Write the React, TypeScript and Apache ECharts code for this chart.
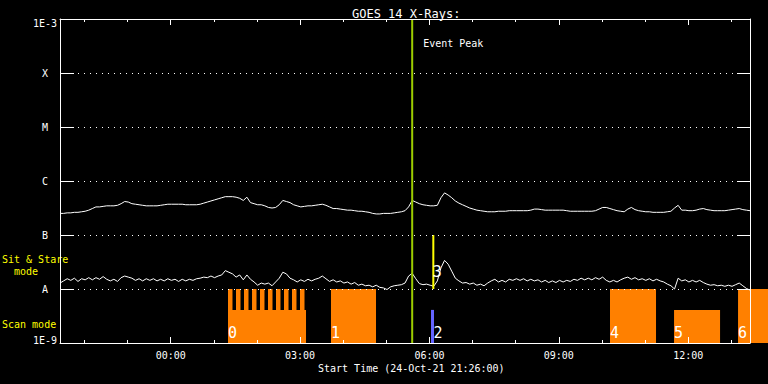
import React, { useEffect, useRef } from 'react';
import * as echarts from 'echarts';

// ---- time base (hours relative to 25-Oct 00:00) ----
const START_HOUR = -2.5667; // 24-Oct-21 21:26:00
const END_HOUR = 13.4333;
const STEP_HOUR = 5 / 60; // 5-minute samples
const Y_MIN = 1e-9;
const Y_MAX = 1e-3;

const majorTickHours = [0, 3, 6, 9, 12];
const minorTickHours = [-2, -1, 1, 2, 4, 5, 7, 8, 10, 11, 13];
const decadeExponents = [-9, -8, -7, -6, -5, -4, -3];
const decadeLabels = ['1E-9', 'A', 'B', 'C', 'M', 'X', '1E-3'];

// ---- GOES 14 flux, log10(W/m^2), 5-minute samples from 21:26 ----
const longLog10 = [
  -6.60, -6.60, -6.59, -6.59, -6.58, -6.58, -6.57, -6.56, -6.54, -6.51,
  -6.48, -6.48, -6.47, -6.46, -6.46, -6.46, -6.45, -6.42, -6.38, -6.39,
  -6.42, -6.43, -6.44, -6.45, -6.46, -6.46, -6.46, -6.46, -6.45, -6.44,
  -6.43, -6.43, -6.43, -6.43, -6.43, -6.44, -6.44, -6.44, -6.44, -6.43,
  -6.41, -6.39, -6.37, -6.35, -6.33, -6.31, -6.29, -6.29, -6.29, -6.30,
  -6.32, -6.36, -6.30, -6.40, -6.42, -6.44, -6.44, -6.46, -6.49, -6.50,
  -6.49, -6.44, -6.36, -6.38, -6.40, -6.44, -6.46, -6.48, -6.47, -6.46,
  -6.46, -6.45, -6.44, -6.43, -6.45, -6.48, -6.51, -6.51, -6.52, -6.53,
  -6.54, -6.54, -6.55, -6.56, -6.56, -6.57, -6.58, -6.60, -6.61, -6.61,
  -6.60, -6.60, -6.60, -6.59, -6.58, -6.57, -6.55, -6.48, -6.36, -6.39,
  -6.42, -6.44, -6.45, -6.46, -6.46, -6.45, -6.31, -6.22, -6.26, -6.31,
  -6.37, -6.41, -6.44, -6.47, -6.50, -6.52, -6.54, -6.55, -6.56, -6.57,
  -6.57, -6.57, -6.56, -6.56, -6.56, -6.55, -6.55, -6.55, -6.55, -6.55,
  -6.55, -6.54, -6.52, -6.52, -6.53, -6.54, -6.54, -6.54, -6.54, -6.54,
  -6.54, -6.55, -6.56, -6.56, -6.56, -6.56, -6.56, -6.56, -6.56, -6.55,
  -6.52, -6.49, -6.49, -6.51, -6.53, -6.55, -6.56, -6.57, -6.52, -6.49,
  -6.53, -6.55, -6.56, -6.57, -6.57, -6.58, -6.58, -6.58, -6.58, -6.57,
  -6.56, -6.50, -6.45, -6.54, -6.54, -6.55, -6.55, -6.54, -6.52, -6.51,
  -6.53, -6.54, -6.55, -6.55, -6.55, -6.55, -6.54, -6.53, -6.52, -6.51,
  -6.53, -6.54, -6.55,
];

const shortLog10 = [
  -7.89, -7.85, -7.81, -7.84, -7.80, -7.86, -7.81, -7.83, -7.79, -7.83,
  -7.79, -7.82, -7.77, -7.82, -7.85, -7.82, -7.86, -7.79, -7.76, -7.78,
  -7.80, -7.84, -7.81, -7.85, -7.81, -7.84, -7.81, -7.85, -7.82, -7.85,
  -7.81, -7.84, -7.82, -7.86, -7.82, -7.85, -7.82, -7.84, -7.81, -7.80,
  -7.78, -7.79, -7.76, -7.79, -7.76, -7.74, -7.66, -7.69, -7.72, -7.78,
  -7.74, -7.83, -7.74, -7.82, -7.87, -7.93, -7.89, -7.91, -7.89, -7.94,
  -7.87, -7.80, -7.69, -7.72, -7.80, -7.83, -7.87, -7.83, -7.86, -7.82,
  -7.85, -7.82, -7.80, -7.76, -7.81, -7.86, -7.83, -7.87, -7.85, -7.89,
  -7.87, -7.91, -7.88, -7.93, -7.91, -7.94, -7.93, -7.96, -7.93, -7.97,
  -7.98, -8.01, -7.96, -7.94, -7.93, -7.92, -7.89, -7.76, -7.71, -7.81,
  -7.90, -7.92, -7.91, -7.93, -7.95, -7.85, -7.61, -7.47, -7.54, -7.67,
  -7.80, -7.85, -7.89, -7.88, -7.91, -7.89, -7.93, -7.91, -7.94, -7.89,
  -7.85, -7.82, -7.87, -7.84, -7.87, -7.82, -7.84, -7.81, -7.84, -7.81,
  -7.85, -7.82, -7.85, -7.83, -7.87, -7.84, -7.88, -7.85, -7.88, -7.84,
  -7.87, -7.84, -7.86, -7.82, -7.84, -7.80, -7.83, -7.80, -7.83, -7.79,
  -7.82, -7.78, -7.84, -7.87, -7.84, -7.87, -7.83, -7.80, -7.78, -7.82,
  -7.79, -7.83, -7.81, -7.84, -7.81, -7.85, -7.82, -7.85, -7.87, -7.91,
  -7.94, -8.00, -7.80, -7.85, -7.83, -7.87, -7.84, -7.87, -7.84, -7.88,
  -7.91, -7.93, -7.92, -7.94, -7.93, -7.95, -7.93, -7.95, -7.92, -7.89,
  -7.94, -7.99, -8.02,
];

// ---- observation timeline (hours) ----
const scanLabels = ['0', '1', '4', '5', '6'];
const scanStart = [1.329, 3.717, 10.187, 11.672, 13.156];
const scanEnd = [3.138, 4.761, 11.254, 12.739, 14.0];
const scanTop = [4.1e-9, 1e-8, 1e-8, 4.1e-9, 1e-8];

const toothStart = [1.329, 1.515, 1.700, 1.886, 2.071, 2.257, 2.442, 2.628, 2.813, 2.999];
const toothEnd = [1.433, 1.619, 1.804, 1.990, 2.175, 2.361, 2.546, 2.732, 2.917, 3.103];
const toothTop = 1e-8;

const shortScanLabels = ['2'];
const shortScanTime = [6.071];
const shortScanTop = [4.1e-9];

const sitStareLabels = ['3'];
const sitStareTime = [6.09];
const sitStareBottom = [1e-8];
const sitStareTop = [1e-7];

const eventPeakTime = 5.6;

// ---- styles ----
const MONO = '"DejaVu Sans Mono", monospace';
const WHITE = '#ffffff';
const ORANGE = '#ff8000';
const PURPLE = '#6464ff';
const YELLOW = '#ffff00';
const GREEN = '#9ccc00';

const fmtHour = (v: number) => {
  const h = ((Math.round(v) % 24) + 24) % 24;
  return String(h).padStart(2, '0') + ':00';
};

export default function App() {
  const ref = useRef<HTMLDivElement>(null);

  useEffect(() => {
    if (!ref.current) return;
    const chart = echarts.init(ref.current, undefined, { renderer: 'svg' });

    const longData = longLog10.map((v, i) => [START_HOUR + i * STEP_HOUR, Math.pow(10, v)]);
    const shortData = shortLog10.map((v, i) => [START_HOUR + i * STEP_HOUR, Math.pow(10, v)]);

    const xBase = {
      type: 'value',
      min: START_HOUR,
      max: END_HOUR,
      splitLine: { show: false },
      z: 10,
    };

    const option: any = {
      animation: false,
      backgroundColor: '#000000',
      title: {
        text: 'GOES 14 X-Rays:',
        left: 347,
        top: 3,
        textStyle: { color: WHITE, fontFamily: MONO, fontSize: 12, fontWeight: 'normal' },
      },
      grid: { left: 60, right: 18, top: 19, bottom: 41, containLabel: false, outerBoundsMode: 'none' },
      xAxis: [
        {
          ...xBase,
          position: 'bottom',
          axisLine: { show: true, onZero: false, lineStyle: { color: WHITE, width: 1 } },
          axisTick: { show: true, inside: true, length: 6, customValues: majorTickHours, lineStyle: { color: WHITE } },
          axisLabel: {
            show: true,
            customValues: majorTickHours,
            formatter: fmtHour,
            color: WHITE,
            fontFamily: MONO,
            fontSize: 10,
            margin: 7,
          },
        },
        {
          ...xBase,
          position: 'bottom',
          axisLine: { show: false, onZero: false },
          axisTick: { show: true, inside: true, length: 3, customValues: minorTickHours, lineStyle: { color: WHITE } },
          axisLabel: { show: false },
        },
        {
          ...xBase,
          position: 'top',
          axisLine: { show: true, onZero: false, lineStyle: { color: WHITE, width: 1 } },
          axisTick: { show: true, inside: true, length: 6, customValues: majorTickHours, lineStyle: { color: WHITE } },
          axisLabel: { show: false },
        },
        {
          ...xBase,
          position: 'top',
          axisLine: { show: false, onZero: false },
          axisTick: { show: true, inside: true, length: 3, customValues: minorTickHours, lineStyle: { color: WHITE } },
          axisLabel: { show: false },
        },
      ],
      yAxis: [
        {
          type: 'log',
          logBase: 10,
          min: Y_MIN,
          max: Y_MAX,
          interval: 1,
          position: 'left',
          z: 10,
          axisLine: { show: true, onZero: false, lineStyle: { color: WHITE, width: 1 } },
          axisTick: { show: true, inside: true, length: 14, lineStyle: { color: WHITE } },
          splitLine: { show: true, lineStyle: { color: WHITE, width: 1, type: [1, 5] } },
          axisLabel: {
            show: true,
            margin: 3,
            color: WHITE,
            fontFamily: MONO,
            fontSize: 10,
            formatter: (v: number) => {
              const e = Math.round(Math.log10(v));
              const idx = decadeExponents.indexOf(e);
              const t = idx >= 0 ? decadeLabels[idx] : '';
              if (e === -3) return '{top|' + t + '}';
              if (e === -9) return '{bot|' + t + '}';
              return '{l|' + t + '}';
            },
            rich: {
              top: { color: WHITE, fontFamily: MONO, fontSize: 10, padding: [8, 0, 0, 0] },
              bot: { color: WHITE, fontFamily: MONO, fontSize: 10, padding: [0, 0, 6, 0] },
              l: { color: WHITE, fontFamily: MONO, fontSize: 10, padding: [0, 9, 0, 0] },
            },
          },
        },
        {
          type: 'log',
          logBase: 10,
          min: Y_MIN,
          max: Y_MAX,
          interval: 1,
          position: 'right',
          z: 10,
          axisLine: { show: true, onZero: false, lineStyle: { color: WHITE, width: 1 } },
          axisTick: { show: true, inside: true, length: 13, lineStyle: { color: WHITE } },
          splitLine: { show: false },
          axisLabel: { show: false },
        },
      ],
      graphic: [
        {
          type: 'text',
          left: 2,
          top: 253,
          style: { text: 'Sit & Stare\n  mode', fill: YELLOW, fontFamily: MONO, fontSize: 10, lineHeight: 12 },
        },
        {
          type: 'text',
          left: 2,
          top: 318,
          style: { text: 'Scan mode', fill: YELLOW, fontFamily: MONO, fontSize: 10, lineHeight: 12 },
        },
        {
          type: 'text',
          left: 318,
          top: 362,
          style: { text: 'Start Time (24-Oct-21 21:26:00)', fill: WHITE, fontFamily: MONO, fontSize: 10, lineHeight: 12 },
        },
      ],
      series: [
        // scan-mode blocks
        {
          type: 'custom',
          xAxisIndex: 0,
          yAxisIndex: 0,
          z: 2,
          clip: false,
          encode: { x: [0, 1], y: 2 },
          data: scanStart.map((s, i) => [s, scanEnd[i], scanTop[i]]),
          renderItem: (params: any, api: any) => {
            const a = api.coord([api.value(0), api.value(2)]);
            const b = api.coord([api.value(1), Y_MIN]);
            return {
              type: 'group',
              children: [
                { type: 'rect', shape: { x: a[0], y: a[1], width: b[0] - a[0], height: b[1] - a[1] }, style: { fill: ORANGE } },
                {
                  type: 'text',
                  x: a[0],
                  y: b[1] - 10.5,
                  z2: 5,
                  style: { text: scanLabels[params.dataIndex], fill: WHITE, fontFamily: MONO, fontSize: 15, align: 'left', verticalAlign: 'middle' },
                },
              ],
            };
          },
        },
        // comb teeth of first scan block
        {
          type: 'custom',
          xAxisIndex: 0,
          yAxisIndex: 0,
          z: 2,
          clip: false,
          encode: { x: [0, 1], y: 2 },
          data: toothStart.map((s, i) => [s, toothEnd[i], toothTop]),
          renderItem: (params: any, api: any) => {
            const a = api.coord([api.value(0), api.value(2)]);
            const b = api.coord([api.value(1), Y_MIN]);
            return { type: 'rect', shape: { x: a[0], y: a[1], width: b[0] - a[0], height: b[1] - a[1] }, style: { fill: ORANGE } };
          },
        },
        // short scan (purple)
        {
          type: 'custom',
          xAxisIndex: 0,
          yAxisIndex: 0,
          z: 3,
          encode: { x: 0, y: 1 },
          data: shortScanTime.map((t, i) => [t, shortScanTop[i]]),
          renderItem: (params: any, api: any) => {
            const a = api.coord([api.value(0), api.value(1)]);
            const b = api.coord([api.value(0), Y_MIN]);
            return {
              type: 'group',
              children: [
                { type: 'line', shape: { x1: a[0], y1: a[1], x2: b[0], y2: b[1] }, style: { stroke: PURPLE, lineWidth: 3 } },
                {
                  type: 'text',
                  x: a[0] + 1,
                  y: b[1] - 10.5,
                  style: { text: shortScanLabels[params.dataIndex], fill: WHITE, fontFamily: MONO, fontSize: 15, align: 'left', verticalAlign: 'middle' },
                },
              ],
            };
          },
        },
        // sit & stare (yellow)
        {
          type: 'custom',
          xAxisIndex: 0,
          yAxisIndex: 0,
          z: 6,
          encode: { x: 0, y: [1, 2] },
          data: sitStareTime.map((t, i) => [t, sitStareBottom[i], sitStareTop[i]]),
          renderItem: (params: any, api: any) => {
            const a = api.coord([api.value(0), api.value(2)]);
            const b = api.coord([api.value(0), api.value(1)]);
            return {
              type: 'group',
              children: [
                { type: 'line', shape: { x1: a[0], y1: a[1], x2: b[0], y2: b[1] }, style: { stroke: YELLOW, lineWidth: 2 } },
                {
                  type: 'text',
                  x: a[0] - 0.5,
                  y: b[1] - 17.5,
                  style: { text: sitStareLabels[params.dataIndex], fill: WHITE, fontFamily: MONO, fontSize: 15, align: 'left', verticalAlign: 'middle' },
                },
              ],
            };
          },
        },
        // GOES long channel
        {
          type: 'line',
          xAxisIndex: 0,
          yAxisIndex: 0,
          z: 4,
          showSymbol: false,
          symbol: 'none',
          data: longData,
          lineStyle: { color: WHITE, width: 1 },
        },
        // GOES short channel
        {
          type: 'line',
          xAxisIndex: 0,
          yAxisIndex: 0,
          z: 4,
          showSymbol: false,
          symbol: 'none',
          data: shortData,
          lineStyle: { color: WHITE, width: 1 },
        },
        // event peak
        {
          type: 'custom',
          xAxisIndex: 0,
          yAxisIndex: 0,
          z: 7,
          encode: { x: 0, y: 1 },
          data: [[eventPeakTime, Y_MAX]],
          renderItem: (params: any, api: any) => {
            const a = api.coord([api.value(0), Y_MAX]);
            const b = api.coord([api.value(0), Y_MIN]);
            return {
              type: 'group',
              children: [
                { type: 'line', shape: { x1: a[0], y1: a[1], x2: b[0], y2: b[1] }, style: { stroke: GREEN, lineWidth: 2 } },
                {
                  type: 'text',
                  x: a[0] + 11,
                  y: a[1] + 24,
                  style: { text: 'Event Peak', fill: WHITE, fontFamily: MONO, fontSize: 10, align: 'left', verticalAlign: 'middle' },
                },
              ],
            };
          },
        },
      ],
    };

    chart.setOption(option);
    return () => chart.dispose();
  }, []);

  return (
    <div
      ref={ref}
      style={{ position: 'fixed', left: 0, top: 0, width: 768, height: 384, background: '#000' }}
    />
  );
}
